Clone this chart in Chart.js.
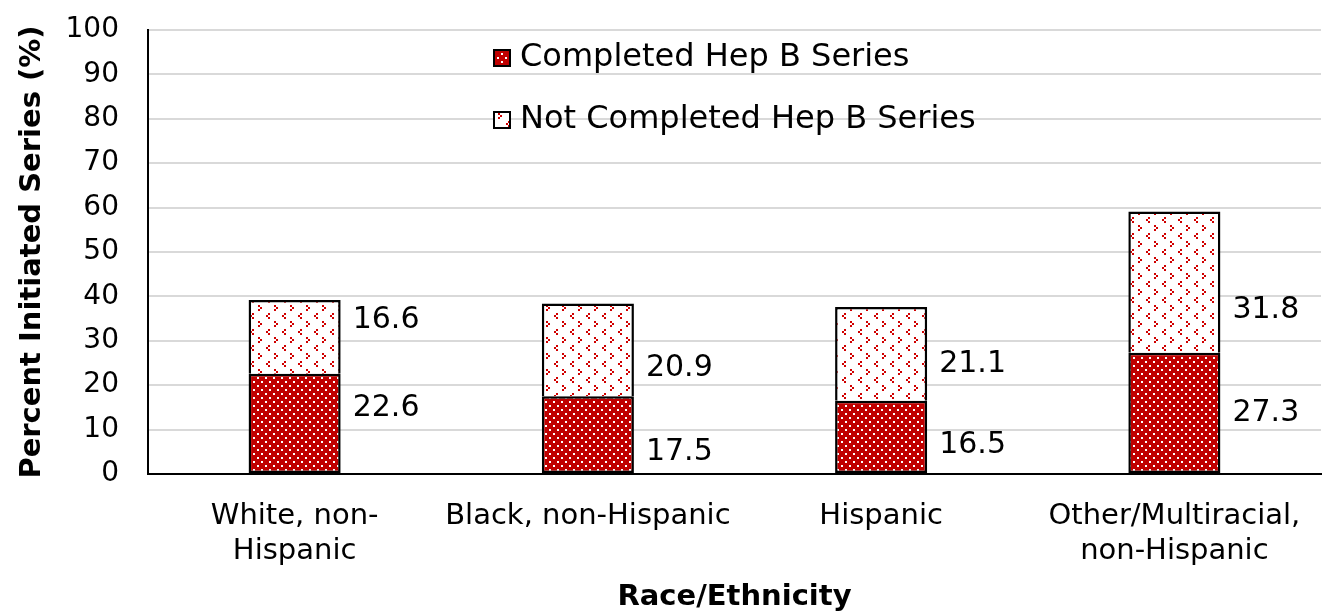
<!DOCTYPE html>
<html>
<head>
<meta charset="utf-8">
<script src="https://cdn.jsdelivr.net/npm/chart.js@4"></script>
<style>
html,body{margin:0;padding:0;background:#fff;}
#wrap{width:1322px;height:615px;}
</style>
</head>
<body>
<div id="wrap"><canvas id="c" width="1322" height="615"></canvas></div>
<script>
const categories = [["White, non-", "Hispanic"], "Black, non-Hispanic", "Hispanic", ["Other/Multiracial,", "non-Hispanic"]];
const completed = [22.6, 17.5, 16.5, 27.3];
const notCompleted = [16.6, 20.9, 21.1, 31.8];
// vertical positions (in axis units) where the value labels sit in the reference
const completedLabelPos = [14.9, 4.8, 6.5, 13.7];
const notCompletedLabelPos = [34.6, 23.9, 24.7, 36.8];
const seriesNames = ["Completed Hep B Series", "Not Completed Hep B Series"];
const yTicks = [0,10,20,30,40,50,60,70,80,90,100];

const FONT = "'DejaVu Sans', Verdana, sans-serif";

function makeCompletedPattern(){
  const c = document.createElement('canvas'); c.width = 8; c.height = 8;
  const g = c.getContext('2d');
  g.fillStyle = '#C00000'; g.fillRect(0,0,8,8);
  g.fillStyle = '#ffffff';
  g.fillRect(1,1,2,2); g.fillRect(5,5,2,2);
  return g.createPattern(c,'repeat');
}
function makeNotCompletedPattern(){
  const c = document.createElement('canvas'); c.width = 16; c.height = 16;
  const g = c.getContext('2d');
  g.fillStyle = '#ffffff'; g.fillRect(0,0,16,16);
  g.fillStyle = '#D00000';
  // ">" chevron
  g.fillRect(2,1,2,2); g.fillRect(4,3,2,2); g.fillRect(2,5,2,2);
  // "<" chevron
  g.fillRect(12,9,2,2); g.fillRect(10,11,2,2); g.fillRect(12,13,2,2);
  return g.createPattern(c,'repeat');
}
const patA = makeCompletedPattern();
const patB = makeNotCompletedPattern();

const labelPlugin = {
  id: 'valueLabels',
  afterDatasetsDraw(chart){
    const ctx = chart.ctx;
    const y = chart.scales.y;
    ctx.save();
    ctx.font = "30px " + FONT;
    ctx.fillStyle = '#000';
    ctx.textAlign = 'left';
    ctx.textBaseline = 'middle';
    const sets = [[completed, completedLabelPos], [notCompleted, notCompletedLabelPos]];
    sets.forEach((s, di) => {
      const meta = chart.getDatasetMeta(di);
      meta.data.forEach((bar, i) => {
        const px = bar.x + bar.width/2 + 12;
        const py = y.getPixelForValue(s[1][i]);
        ctx.fillText(s[0][i].toFixed(1), px, py);
      });
    });
    ctx.restore();
  }
};

const legendPlugin = {
  id: 'customLegend',
  afterDraw(chart){
    const ctx = chart.ctx;
    const ca = chart.chartArea;
    const x0 = ca.left + 346;
    const rows = [ca.top + 28, ca.top + 90];
    const pats = [patA, patB];
    ctx.save();
    ctx.font = "32px " + FONT;
    ctx.textBaseline = 'middle';
    ctx.textAlign = 'left';
    rows.forEach((ry, i) => {
      ctx.fillStyle = pats[i];
      ctx.fillRect(x0, ry - 8, 16, 16);
      ctx.lineWidth = 2;
      ctx.strokeStyle = '#000';
      ctx.strokeRect(x0, ry - 8, 16, 16);
      ctx.fillStyle = '#000';
      ctx.fillText(seriesNames[i], x0 + 26, ry);
    });
    ctx.restore();
  }
};

new Chart(document.getElementById('c'), {
  type: 'bar',
  data: {
    labels: categories,
    datasets: [
      { label: seriesNames[0], data: completed, backgroundColor: patA, borderColor: '#000', borderWidth: 2.5, borderSkipped: false },
      { label: seriesNames[1], data: notCompleted, backgroundColor: patB, borderColor: '#000', borderWidth: 2.5, borderSkipped: 'bottom' }
    ]
  },
  options: {
    responsive: false,
    animation: false,
    devicePixelRatio: 1,
    layout: { padding: { top: 30, right: 1, bottom: 0, left: 0 } },
    plugins: { legend: { display: false }, tooltip: { enabled: false } },
    datasets: { bar: { categoryPercentage: 1, barPercentage: 0.314 } },
    scales: {
      x: {
        stacked: true,
        grid: { display: false, drawTicks: false },
        border: { display: true, color: '#000', width: 2 },
        ticks: { color: '#000', font: { family: FONT, size: 29, lineHeight: 1.2 }, padding: 25, maxRotation: 0, autoSkip: false },
        title: { display: true, text: 'Race/Ethnicity', color: '#000', font: { family: FONT, size: 29, weight: 'bold', lineHeight: 1.2 }, padding: { top: 0, bottom: 0 } },
        afterFit(s){ s.height = 141; s.paddingLeft = 0; s.paddingRight = 0; }
      },
      y: {
        stacked: true,
        min: 0, max: 100,
        afterBuildTicks(s){ s.ticks = yTicks.map(v => ({ value: v })); },
        grid: { color: '#d9d9d9', lineWidth: 2, drawTicks: false },
        border: { display: true, color: '#000', width: 2 },
        ticks: { color: '#000', font: { family: FONT, size: 28 }, padding: 29 },
        title: { display: true, text: 'Percent Initiated Series (%)', color: '#000', font: { family: FONT, size: 29, weight: 'bold', lineHeight: 1.2 }, padding: { top: 15, bottom: 0 } },
        afterFit(s){ s.width = 148; s.paddingTop = 0; s.paddingBottom = 0; }
      }
    }
  },
  plugins: [labelPlugin, legendPlugin]
});
</script>
</body>
</html>
